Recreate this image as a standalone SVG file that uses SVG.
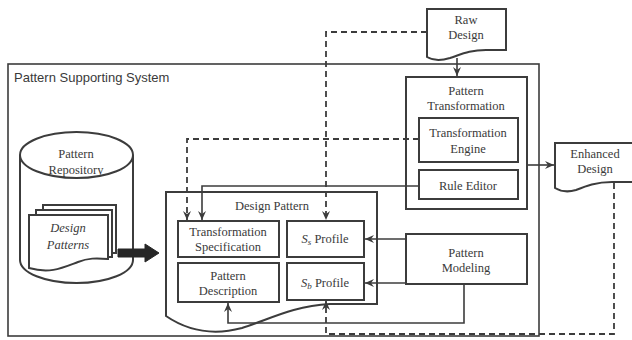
<svg xmlns="http://www.w3.org/2000/svg" width="632" height="340" viewBox="0 0 632 340">
  <defs>
    <style>
      .box { fill: #fff; stroke: #3c3c3c; stroke-width: 2; }
      .frame { fill: none; stroke: #3c3c3c; stroke-width: 1.6; }
      .lbl { font-family: "Liberation Serif", "Times New Roman", serif; font-size: 12.5px; fill: #3a3a3a; text-anchor: middle; }
      .sys { font-family: "Liberation Sans", Arial, sans-serif; font-size: 13px; fill: #3a3a3a; }
      .wire { fill: none; stroke: #3c3c3c; stroke-width: 1.6; }
      .dash { fill: none; stroke: #3c3c3c; stroke-width: 1.8; stroke-dasharray: 6 4; }
    </style>
    <marker id="arrow" viewBox="0 0 10 8" refX="9" refY="4" markerWidth="10" markerHeight="8" markerUnits="userSpaceOnUse" orient="auto">
      <path d="M0,0 L9,4 L0,8 L3,4 Z" fill="#3c3c3c"/>
    </marker>
  </defs>

  <rect width="632" height="340" fill="#fff"/>

  <!-- system boundary -->
  <g id="pattern-supporting-system">
    <rect class="frame" x="8" y="64" width="531" height="272"/>
    <text class="sys" x="14" y="82">Pattern Supporting System</text>
  </g>

  <!-- repository cylinder with stacked pattern documents -->
  <g id="pattern-repository">
    <path class="box" d="M20,155 V260 A56.5,23 0 0 0 133,260 V155"/>
    <ellipse class="box" cx="76.5" cy="155" rx="56.5" ry="23"/>
    <text class="lbl" x="76" y="158">Pattern</text>
    <text class="lbl" x="76" y="174">Repository</text>
  </g>
  <g id="design-patterns">
    <rect class="box" x="43" y="205" width="73" height="48"/>
    <rect class="box" x="36" y="210" width="76" height="47"/>
    <path class="box" d="M29,215 H108 V259 C96,258 88,258 78,262 C62,268 50,274 29,268 Z"/>
    <text class="lbl" x="68" y="232" font-style="italic">Design</text>
    <text class="lbl" x="68" y="249" font-style="italic">Patterns</text>
  </g>

  <!-- repository feeds the design pattern -->
  <g id="feed-arrow">
    <path d="M118,249 H145 V244 L159,253 L145,262 V257 H118 Z" fill="#262626" stroke="#262626" stroke-width="1"/>
  </g>

  <!-- raw and enhanced designs -->
  <g id="raw-design">
    <path class="box" d="M427,9 H506 V50 H486 C470,50 462,54 450,58 C440,61 432,60 427,57 Z"/>
    <text class="lbl" x="466" y="24">Raw</text>
    <text class="lbl" x="466" y="39">Design</text>
  </g>
  <g id="enhanced-design">
    <path class="box" d="M555,143 H640 V182 H612 C596,182 586,186 576,190 C566,193 560,191 555,188 Z"/>
    <text class="lbl" x="595" y="158">Enhanced</text>
    <text class="lbl" x="595" y="173">Design</text>
  </g>

  <!-- transformation components -->
  <g id="pattern-transformation">
    <rect class="box" x="406" y="77" width="121" height="132"/>
    <text class="lbl" x="466" y="95">Pattern</text>
    <text class="lbl" x="466" y="110">Transformation</text>
  </g>
  <g id="transformation-engine">
    <rect class="box" x="419" y="118" width="99" height="44"/>
    <text class="lbl" x="468" y="137">Transformation</text>
    <text class="lbl" x="468" y="153">Engine</text>
  </g>
  <g id="rule-editor">
    <rect class="box" x="419" y="170" width="99" height="29"/>
    <text class="lbl" x="468" y="190">Rule Editor</text>
  </g>

  <g id="pattern-modeling">
    <rect class="box" x="406" y="234" width="121" height="50"/>
    <text class="lbl" x="466" y="257">Pattern</text>
    <text class="lbl" x="466" y="272">Modeling</text>
  </g>

  <!-- design pattern document and its parts -->
  <g id="design-pattern">
    <path class="box" d="M166,192 H377 V304 H330 C292,306 268,320 242,328 C212,336 188,331 166,316 Z"/>
    <text class="lbl" x="272" y="210">Design Pattern</text>
  </g>
  <g id="transformation-specification">
    <rect class="box" x="178" y="221" width="101" height="36"/>
    <text class="lbl" x="228" y="236">Transformation</text>
    <text class="lbl" x="228" y="251">Specification</text>
  </g>
  <g id="pattern-description">
    <rect class="box" x="178" y="263" width="101" height="39"/>
    <text class="lbl" x="228" y="280">Pattern</text>
    <text class="lbl" x="228" y="295">Description</text>
  </g>
  <g id="s-s-profile">
    <rect class="box" x="287" y="221" width="77" height="36"/>
    <text class="lbl" x="325" y="243"><tspan font-style="italic">S</tspan><tspan font-style="italic" font-size="9" dy="2">s</tspan><tspan dy="-2"> Profile</tspan></text>
  </g>
  <g id="s-b-profile">
    <rect class="box" x="287" y="263" width="77" height="37"/>
    <text class="lbl" x="325" y="287"><tspan font-style="italic">S</tspan><tspan font-style="italic" font-size="9" dy="2">b</tspan><tspan dy="-2"> Profile</tspan></text>
  </g>

  <!-- connectors -->
  <g id="connectors">
    <path class="wire" d="M457,58 V76" marker-end="url(#arrow)"/>
    <path class="wire" d="M527,165 H554" marker-end="url(#arrow)"/>
    <path class="wire" d="M419,186 H202 V220" marker-end="url(#arrow)"/>
    <path class="wire" d="M406,239 H365" marker-end="url(#arrow)"/>
    <path class="wire" d="M406,283 H365" marker-end="url(#arrow)"/>
    <path class="wire" d="M464,284 V323 H228 V303" marker-end="url(#arrow)"/>
    <path class="dash" d="M427,32 H326 V220" marker-end="url(#arrow)"/>
    <path class="dash" d="M419,139 H187 V220" marker-end="url(#arrow)"/>
    <path class="dash" d="M614,183 V334 H326 V301" marker-end="url(#arrow)"/>
  </g>
</svg>
